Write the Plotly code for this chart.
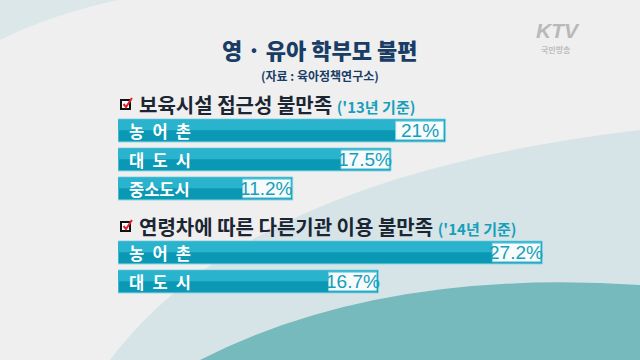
import plotly.graph_objects as go

# ---------------- data ----------------
title_text = "영 · 유아 학부모 불편"
source_text = "(자료 : 육아정책연구소)"

sec1_title = "보육시설 접근성 불만족"
sec1_note = "('13년 기준)"
sec1_categories = ["농어촌", "대도시", "중소도시"]
sec1_values = [21.0, 17.5, 11.2]

sec2_title = "연령차에 따른 다른기관 이용 불만족"
sec2_note = "('14년 기준)"
sec2_categories = ["농어촌", "대도시"]
sec2_values = [27.2, 16.7]

# ---------------- style ----------------
W, H = 640, 360
BAR_DARK = "#0b98b4"
BAR_LIGHT = "#2ab3cc"
BAR_EDGE = "#86d6e4"
VAL_COLOR = "#169fbb"
NAVY = "#1a3d66"
HEAD = "#1c2633"
X_MAX = 30.9
BOX = 3.2  # width of the white value box in axis units

KR = "Noto Sans CJK KR"


def px(x, y):
    return f"{x / W:.4f},{1 - y / H:.4f}"


def disp(label):
    return "\u2002".join(label) if len(label) == 3 else label


fig = go.Figure()

sections = [
    (sec1_categories, sec1_values, "x", "y"),
    (sec2_categories, sec2_values, "x2", "y2"),
]

annotations = []
for cats, vals, xa, ya in sections:
    # main bar
    fig.add_trace(go.Bar(
        x=vals, y=cats, orientation="h", xaxis=xa, yaxis=ya,
        width=0.79, offset=-0.395,
        marker=dict(color=BAR_DARK, line=dict(color=BAR_EDGE, width=1)),
        hoverinfo="skip", showlegend=False,
    ))
    # upper highlight
    fig.add_trace(go.Bar(
        x=[v - 0.08 for v in vals], y=cats, orientation="h", xaxis=xa, yaxis=ya,
        width=0.36, offset=-0.37,
        marker=dict(color=BAR_LIGHT, line=dict(width=0)),
        hoverinfo="skip", showlegend=False,
    ))
    # white value box at the end of each bar
    fig.add_trace(go.Bar(
        x=[BOX - 0.12] * len(vals), base=[v - BOX for v in vals], y=cats,
        orientation="h", xaxis=xa, yaxis=ya,
        width=0.64, offset=-0.32,
        marker=dict(color="#f7fbfc", line=dict(color=BAR_EDGE, width=1)),
        hoverinfo="skip", showlegend=False,
    ))
    for c, v in zip(cats, vals):
        annotations.append(dict(
            x=0, y=c, xref=xa, yref=ya, xanchor="left", yanchor="middle",
            xshift=9, text=f"<b>{disp(c)}</b>", showarrow=False,
            font=dict(family=KR, size=16.5, color="white"),
        ))
        annotations.append(dict(
            x=v - BOX / 2 - 0.06, y=c, xref=xa, yref=ya, xanchor="center",
            yanchor="middle", text=f"{v:g}%", showarrow=False,
            font=dict(family="Liberation Sans, Arial", size=19, color=VAL_COLOR),
        ))

# titles
annotations += [
    dict(x=320 / W, y=1 - 49 / H, xref="paper", yref="paper", text=f"<b>{title_text}</b>",
         showarrow=False, xanchor="center", yanchor="middle",
         font=dict(family="Noto Sans CJK KR Black, Noto Sans CJK KR", size=22,
                   color=NAVY, weight=900)),
    dict(x=320 / W, y=1 - 75 / H, xref="paper", yref="paper", text=f"<b>{source_text}</b>",
         showarrow=False, xanchor="center", yanchor="middle",
         font=dict(family=KR, size=12, color=NAVY)),
    dict(x=137 / W, y=1 - 104.5 / H, xref="paper", yref="paper",
         text=f"<b>{sec1_title} <span style='color:{VAL_COLOR};font-size:15px'>{sec1_note}</span></b>",
         showarrow=False, xanchor="left", yanchor="middle",
         font=dict(family=KR, size=20, color=HEAD)),
    dict(x=137 / W, y=1 - 226 / H, xref="paper", yref="paper",
         text=f"<b>{sec2_title} <span style='color:{VAL_COLOR};font-size:15px'>{sec2_note}</span></b>",
         showarrow=False, xanchor="left", yanchor="middle",
         font=dict(family=KR, size=20, color=HEAD)),
    # KTV logo
    dict(x=558 / W, y=1 - 30 / H, xref="paper", yref="paper", text="<b><i>KTV</i></b>",
         showarrow=False, xanchor="center", yanchor="middle",
         font=dict(family="Liberation Sans, Arial", size=21, color="#b9b9b9")),
    dict(x=556 / W, y=1 - 50 / H, xref="paper", yref="paper", text="<b>국민방송</b>",
         showarrow=False, xanchor="center", yanchor="middle",
         font=dict(family=KR, size=8, color="#bdbdbd")),
]

shapes = [
    # background swooshes
    dict(type="path", xref="paper", yref="paper", layer="below",
         path=f"M {px(0,0)} L {px(118,0)} Q {px(50,15)} {px(0,40)} Z",
         fillcolor="#dce7ea", line=dict(width=0)),
    dict(type="path", xref="paper", yref="paper", layer="below",
         path=f"M {px(110,360)} C {px(170,280)} {px(300,170)} {px(640,130)} L {px(640,360)} Z",
         fillcolor="#d6e4e8", line=dict(width=0)),
    dict(type="path", xref="paper", yref="paper", layer="below",
         path=f"M {px(200,360)} Q {px(380,268)} {px(640,285)} L {px(640,360)} Z",
         fillcolor="#76babd", line=dict(width=0)),
]
# checkbox icons
for cy in (105, 227):
    shapes.append(dict(type="rect", xref="paper", yref="paper",
                       x0=121 / W, x1=130 / W, y0=1 - (cy + 4) / H, y1=1 - (cy - 5) / H,
                       fillcolor="white", line=dict(color="#111111", width=2)))
    shapes.append(dict(type="path", xref="paper", yref="paper",
                       path=f"M {px(123.5, cy - 1)} L {px(126, cy + 2)} L {px(132, cy - 7)}",
                       line=dict(color="#e0202a", width=2)))

axis_common = dict(showgrid=False, zeroline=False, showticklabels=False, showline=False,
                   fixedrange=True)

fig.update_layout(
    width=W, height=H,
    margin=dict(l=0, r=0, t=0, b=0),
    paper_bgcolor="#efefef", plot_bgcolor="rgba(0,0,0,0)",
    barmode="overlay", showlegend=False,
    xaxis=dict(domain=[118 / W, 600 / W], range=[0, X_MAX], anchor="y", **axis_common),
    yaxis=dict(domain=[1 - 203 / H, 1 - 116 / H], range=[2.5, -0.5], anchor="x",
               type="category", **axis_common),
    xaxis2=dict(domain=[118 / W, 600 / W], range=[0, X_MAX], anchor="y2", **axis_common),
    yaxis2=dict(domain=[1 - 296 / H, 1 - 238 / H], range=[1.5, -0.5], anchor="x2",
                type="category", **axis_common),
    annotations=annotations,
    shapes=shapes,
)

fig.write_html(
    "out.html",
    config={"displayModeBar": False},
    post_script="document.body.style.margin='0';document.body.style.overflow='hidden';",
)
